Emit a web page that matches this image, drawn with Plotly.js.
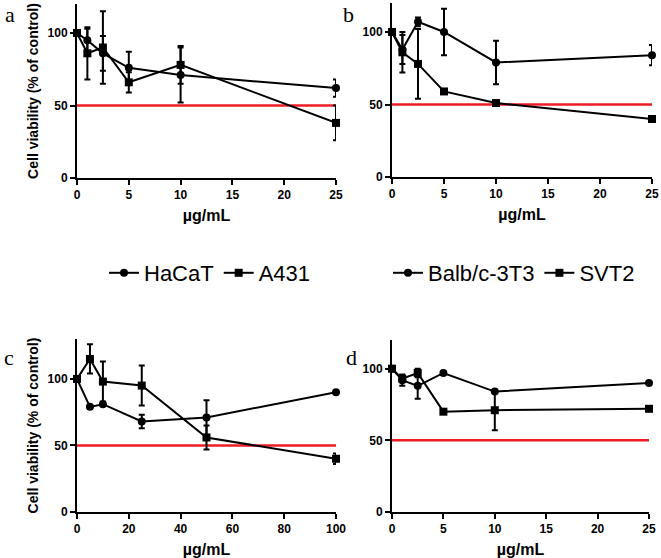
<!DOCTYPE html>
<html><head><meta charset="utf-8">
<script src="https://cdn.plot.ly/plotly-3.0.1.min.js"></script>
<style>html,body{margin:0;padding:0;background:#fff}</style>
</head><body><div id="chart" style="width:661px;height:558px"></div>
<script>
// Panel a: HaCaT vs A431 (0-25 µg/mL)
const concA = [0, 1, 2.5, 5, 10, 25];
const hacatA = [100, 95, 86, 76, 71, 62];
const hacatAErr = [0, 8, 12, 11, 19, 6];
const a431A = [100, 86, 90, 66, 78, 38];
const a431AErr = [0, 18, 25, 7, 13, 12];
// Panel b: Balb/c-3T3 vs SVT2 (0-25 µg/mL)
const concB = [0, 1, 2.5, 5, 10, 25];
const balbB = [100, 88, 107, 100, 79, 84];
const balbBErr = [0, 10, 3, 16, 15, 7];
const svt2B = [100, 86, 78, 59, 51, 40];
const svt2BErr = [0, 14, 24, 1, 1, 1];
// Panel c: HaCaT vs A431 (0-100 µg/mL)
const concC = [0, 5, 10, 25, 50, 100];
const hacatC = [100, 79, 81, 68, 71, 90];
const hacatCErr = [0, 1, 1, 5, 13, 1];
const a431C = [100, 115, 98, 95, 56, 40];
const a431CErr = [0, 11, 15, 15, 9, 4];
// Panel d: Balb/c-3T3 vs SVT2 (0-25 µg/mL)
const concD = [0, 1, 2.5, 5, 10, 25];
const balbD = [100, 92, 88, 97, 84, 90];
const balbDErr = [0, 4, 9, 1, 1, 1];
const svt2D = [100, 93, 97, 70, 71, 72];
const svt2DErr = [0, 2, 3, 1, 14, 1];
const cutoff = 50;
const yTicks = [0, 50, 100];
const xTicks25 = [0, 5, 10, 15, 20, 25];
const xTicks100 = [0, 20, 40, 60, 80, 100];
const panelLabels = ['a', 'b', 'c', 'd'];

const W = 661, H = 558;
const FONT = 'Liberation Sans, Arial, Helvetica, sans-serif';

function mk(x, y, err, name, sym, xa, ya, legend, showlegend) {
  return {
    type: 'scatter', mode: 'lines+markers', x: x, y: y, name: name,
    xaxis: xa, yaxis: ya, legend: legend, showlegend: showlegend,
    cliponaxis: false,
    line: {color: '#000', width: 2},
    marker: {symbol: sym, size: sym === 'square' ? 8 : 8, color: '#000'},
    error_y: {type: 'data', array: err, visible: true, color: '#000', thickness: 2, width: 3}
  };
}

const data = [
  mk(concA, hacatA, hacatAErr, 'HaCaT', 'circle', 'x', 'y', 'legend', true),
  mk(concA, a431A, a431AErr, 'A431', 'square', 'x', 'y', 'legend', true),
  mk(concB, balbB, balbBErr, 'Balb/c-3T3', 'circle', 'x2', 'y2', 'legend2', true),
  mk(concB, svt2B, svt2BErr, 'SVT2', 'square', 'x2', 'y2', 'legend2', true),
  mk(concC, hacatC, hacatCErr, 'HaCaT', 'circle', 'x3', 'y3', 'legend', false),
  mk(concC, a431C, a431CErr, 'A431', 'square', 'x3', 'y3', 'legend', false),
  mk(concD, balbD, balbDErr, 'Balb/c-3T3', 'circle', 'x4', 'y4', 'legend2', false),
  mk(concD, svt2D, svt2DErr, 'SVT2', 'square', 'x4', 'y4', 'legend2', false)
];

const tickFont = {family: FONT, size: 12, color: '#000', weight: 'bold'};
function xax(px0, px1, range, ticks, anchor) {
  return {
    domain: [px0 / W, px1 / W], range: range, anchor: anchor,
    tickvals: ticks, ticktext: ticks.map(String),
    showline: true, linecolor: '#000', linewidth: 2,
    ticks: 'outside', ticklen: 5, tickwidth: 2, tickcolor: '#000',
    showgrid: false, zeroline: false, tickfont: tickFont,
    title: {text: 'µg/mL', font: {family: FONT, size: 16, color: '#000', weight: 'bold'}, standoff: 8}
  };
}
function yax(py0, py1, range, anchor, title) {
  return {
    domain: [1 - py0 / H, 1 - py1 / H], range: range, anchor: anchor,
    tickvals: yTicks, ticktext: yTicks.map(String),
    showline: true, linecolor: '#000', linewidth: 2,
    ticks: 'outside', ticklen: 5, tickwidth: 2, tickcolor: '#000',
    showgrid: false, zeroline: false, tickfont: tickFont,
    title: {text: title, font: {family: FONT, size: 14, color: '#000', weight: 'bold'}, standoff: 6}
  };
}

function cutLine(xr, yr, conc) {
  return {type: 'line', xref: xr, yref: yr, x0: 0, x1: Math.max(...conc), y0: cutoff, y1: cutoff,
          line: {color: '#ee1c24', width: 2.5}, layer: 'below'};
}

const labelFont = {family: 'Liberation Serif, Times New Roman, serif', size: 22, color: '#000'};
const labelPos = [[10, 14], [348, 14], [9, 358], [351, 357]];
const annotations = panelLabels.map((t, i) => ({
  text: t, xref: 'paper', yref: 'paper', x: labelPos[i][0] / W, y: 1 - labelPos[i][1] / H,
  xanchor: 'center', yanchor: 'middle', showarrow: false, font: labelFont
}));

const legendCommon = {
  orientation: 'h', yanchor: 'middle', xanchor: 'center', bgcolor: 'rgba(0,0,0,0)',
  font: {family: FONT, size: 22, color: '#000'}, itemwidth: 30, borderwidth: 0
};

const layout = {
  width: W, height: H, margin: {l: 0, r: 0, t: 0, b: 0},
  paper_bgcolor: '#fff', plot_bgcolor: '#fff', showlegend: true,
  xaxis: xax(77, 336, [0, 25], xTicks25, 'y'),
  yaxis: yax(178, 4, [0, 120], 'x', 'Cell viability (% of control)'),
  xaxis2: xax(392, 652, [0, 25], xTicks25, 'y2'),
  yaxis2: yax(177, 3, [0, 120], 'x2', ''),
  xaxis3: xax(77, 336, [0, 100], xTicks100, 'y3'),
  yaxis3: yax(512, 339, [0, 130], 'x3', 'Cell viability (% of control)'),
  xaxis4: xax(392, 649, [0, 25], xTicks25, 'y4'),
  yaxis4: yax(512, 340, [0, 120], 'x4', ''),
  shapes: [cutLine('x', 'y', concA), cutLine('x2', 'y2', concB), cutLine('x3', 'y3', concC), cutLine('x4', 'y4', concD)],
  annotations: annotations,
  legend: Object.assign({x: 210 / W, y: 1 - 273 / H}, legendCommon),
  legend2: Object.assign({x: 514 / W, y: 1 - 273 / H}, legendCommon)
};

Plotly.newPlot('chart', data, layout, {displayModeBar: false, staticPlot: true});
</script></body></html>
